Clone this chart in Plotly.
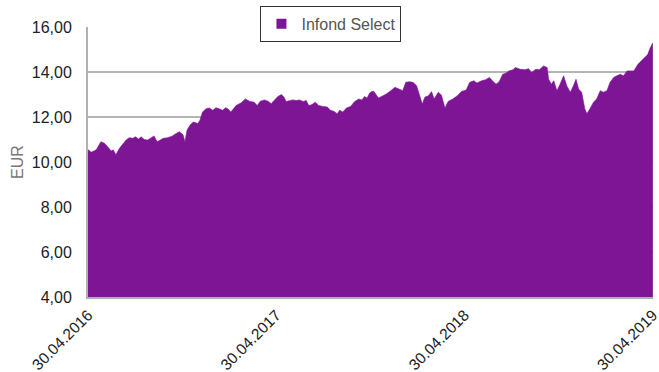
import datetime as dt
import plotly.graph_objects as go

# Fund NAV history: days since 30.04.2016 and NAV in EUR
start_date = dt.date(2016, 4, 30)
day_offset = [
    0, 1, 6, 16, 25, 32, 38, 45, 49, 54, 61, 67, 74, 80, 87, 92, 98, 103, 109, 116,
    122, 128, 134, 140, 146, 154, 163, 171, 177, 184, 188, 192, 198, 204, 213, 217,
    222, 229, 235, 242, 248, 254, 261, 267, 271, 277, 287, 297, 305, 313, 322, 328,
    334, 342, 350, 355, 362, 368, 375, 380, 384, 391, 397, 404, 410, 417, 423, 428,
    433, 441, 447, 455, 464, 470, 477, 483, 488, 494, 501, 509, 517, 525, 531, 536,
    541, 546, 550, 554, 563, 569, 578, 587, 595, 603, 610, 616, 623, 630, 637, 642,
    648, 653, 660, 666, 671, 679, 685, 692, 698, 707, 716, 724, 733, 740, 748, 754,
    763, 771, 778, 784, 791, 797, 804, 810, 816, 824, 828, 838, 847, 854, 860, 868,
    875, 883, 890, 893, 898, 903, 909, 915, 922, 928, 935, 941, 946, 951, 957, 963,
    967, 973, 980, 986, 993, 999, 1006, 1012, 1019, 1025, 1032, 1038, 1045, 1051,
    1058, 1066, 1072, 1079, 1085, 1090, 1093, 1095,
]
nav = [
    10.50, 10.54, 10.43, 10.54, 10.90, 10.83, 10.68, 10.49, 10.54, 10.32, 10.61, 10.76,
    10.98, 11.08, 11.05, 11.12, 11.02, 11.12, 11.00, 10.98, 11.08, 11.16, 10.90, 10.98,
    11.05, 11.08, 11.15, 11.27, 11.34, 11.22, 10.90, 11.42, 11.64, 11.78, 11.71, 11.86,
    12.22, 12.37, 12.40, 12.30, 12.41, 12.37, 12.30, 12.41, 12.37, 12.22, 12.51, 12.63,
    12.80, 12.70, 12.66, 12.51, 12.70, 12.76, 12.69, 12.59, 12.78, 12.91, 13.00, 12.88,
    12.69, 12.73, 12.76, 12.73, 12.76, 12.69, 12.73, 12.51, 12.54, 12.66, 12.51, 12.47,
    12.44, 12.30, 12.25, 12.15, 12.30, 12.22, 12.40, 12.47, 12.69, 12.80, 12.76, 12.91,
    12.84, 13.07, 13.13, 13.14, 12.84, 12.91, 13.02, 13.17, 13.32, 13.24, 13.17, 13.54,
    13.57, 13.54, 13.39, 13.02, 12.58, 12.88, 12.95, 13.13, 12.80, 13.10, 12.98, 12.40,
    12.69, 12.80, 12.95, 13.13, 13.20, 13.54, 13.61, 13.51, 13.61, 13.66, 13.76, 13.61,
    13.46, 13.57, 13.90, 13.95, 14.05, 14.10, 14.20, 14.12, 14.10, 14.15, 13.98, 14.12,
    14.10, 14.27, 14.20, 13.68, 13.46, 13.61, 13.17, 13.46, 13.83, 13.39, 13.10, 13.39,
    13.68, 13.24, 13.10, 12.37, 12.15, 12.37, 12.66, 12.80, 13.17, 13.10, 13.17, 13.54,
    13.76, 13.83, 13.90, 13.83, 14.05, 14.05, 14.05, 14.34, 14.49, 14.64, 14.78, 15.08,
    15.22, 15.30,
]
series_name = "Infond Select"
x_tick_dates = ["2016-04-30", "2017-04-30", "2018-04-30", "2019-04-30"]
x_tick_labels = ["30.04.2016", "30.04.2017", "30.04.2018", "30.04.2019"]
y_ticks = [4, 6, 8, 10, 12, 14, 16]

dates = [start_date + dt.timedelta(days=d) for d in day_offset]

PURPLE = "#7D1595"
FONT = "Liberation Sans Narrow, Arial Narrow, Liberation Sans, sans-serif"

fig = go.Figure()
fig.add_trace(go.Scatter(
    x=dates, y=nav, name=series_name, mode="lines", showlegend=False,
    line=dict(color=PURPLE, width=0.6), fill="tozeroy", fillcolor=PURPLE,
))
# legend entry with a square swatch
fig.add_trace(go.Scatter(
    x=[None], y=[None], name=series_name, mode="markers",
    marker=dict(symbol="square", size=10, color=PURPLE),
))

fig.update_layout(
    width=659, height=372,
    margin=dict(l=88, r=6, t=24, b=75),
    paper_bgcolor="white", plot_bgcolor="white",
    separators=", ",
    font=dict(family=FONT, size=14, color="#222222"),
    showlegend=True,
    legend=dict(
        x=0.43, y=1.012, xanchor="center", yanchor="middle",
        bgcolor="white", bordercolor="#333333", borderwidth=1,
        font=dict(family=FONT, size=16, color="#555555"),
        itemwidth=30,
    ),
)
fig.update_xaxes(
    type="date", range=["2016-04-30", "2019-04-30 06:00"],
    tickvals=x_tick_dates, ticktext=x_tick_labels, tickangle=-45,
    showgrid=False, showline=True, linecolor="#b0b0b0", linewidth=2,
    ticks="", ticklabelstandoff=1, automargin=False, ticklabeloverflow="allow",
    tickfont=dict(family=FONT, size=15.5, color="#222222"),
)
fig.update_yaxes(
    range=[4, 16], tickvals=y_ticks, tickformat=".2f",
    showgrid=True, gridcolor="#b4b4b4", gridwidth=2,
    showline=True, linecolor="#b0b0b0", linewidth=2,
    ticks="", ticklabelstandoff=11, automargin=False,
    tickfont=dict(family=FONT, size=16, color="#222222"),
    title=dict(text="EUR", standoff=4, font=dict(family=FONT, size=16, color="#777777")),
    layer="below traces",
)

fig.write_html("out.html")
